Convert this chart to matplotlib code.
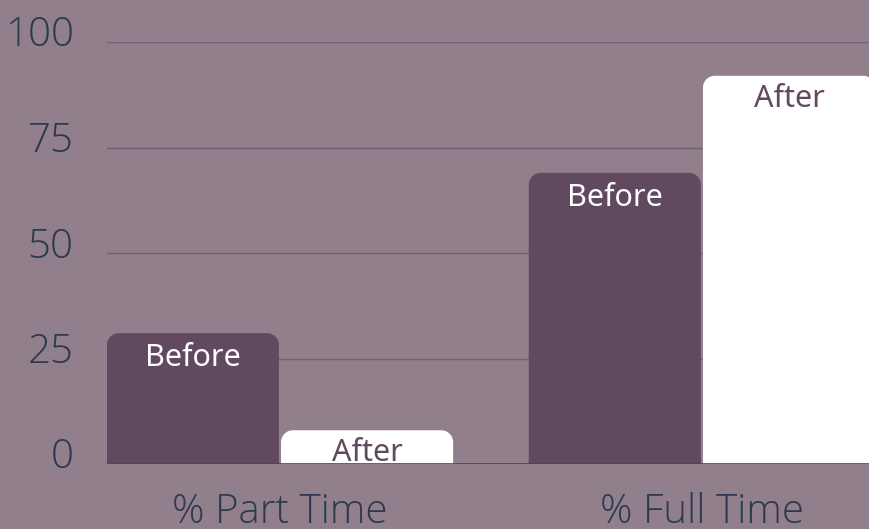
import numpy as np
import matplotlib.pyplot as plt
import matplotlib.transforms as mtransforms
from matplotlib.path import Path
from matplotlib.patches import PathPatch

categories = ['% Part Time', '% Full Time']
before = [31, 69]
after = [8, 92]
yticks = [0, 25, 50, 75, 100]

bg = '#917f8c'
dark = '#614a5f'
navy = '#2c3a50'


def rounded_top(ax, rect, r_px, color):
	# swap a plain bar for one with rounded top corners
	x, y = rect.get_x(), rect.get_y()
	w, h = rect.get_width(), rect.get_height()
	ax.figure.canvas.draw()
	p0 = ax.transData.transform((0, 0))
	p1 = ax.transData.transform((1, 1))
	rx = r_px / (p1[0] - p0[0])
	ry = min(r_px / (p1[1] - p0[1]), h)
	k = 0.5523
	verts = [
		(x, y), (x, y + h - ry),
		(x, y + h - ry + k * ry), (x + rx - k * rx, y + h), (x + rx, y + h),
		(x + w - rx, y + h),
		(x + w - rx + k * rx, y + h), (x + w, y + h - ry + k * ry), (x + w, y + h - ry),
		(x + w, y), (x, y),
	]
	codes = [Path.MOVETO, Path.LINETO,
		Path.CURVE4, Path.CURVE4, Path.CURVE4,
		Path.LINETO,
		Path.CURVE4, Path.CURVE4, Path.CURVE4,
		Path.LINETO, Path.CLOSEPOLY]
	rect.remove()
	ax.add_patch(PathPatch(Path(verts, codes), facecolor=color, edgecolor='none', zorder=3))


def main():
	fig = plt.figure(figsize=(8.69, 5.29), dpi=100, facecolor=bg)
	ax = fig.add_axes([107 / 869, 1 - 464 / 529, 1 - 107 / 869, (464 - 42) / 529])
	ax.set_facecolor(bg)

	x = np.arange(len(categories))
	w = 0.408
	gap = 0.0024
	b1 = ax.bar(x - w / 2 - gap, before, w, color=dark, zorder=3)
	b2 = ax.bar(x + w / 2 + gap, after, w, color='white', zorder=3)

	ax.set_xlim(-0.41, 1.396)
	ax.set_ylim(0, 100)

	ax.set_yticks(yticks)
	ax.set_xticks(x)
	ax.set_xticklabels(categories)
	ax.tick_params(length=0)
	ax.tick_params(axis='y', pad=24)
	ax.tick_params(axis='x', pad=20)
	for lab in ax.get_yticklabels() + ax.get_xticklabels():
		lab.set_fontfamily('Open Sans')
		lab.set_fontweight(300)
		lab.set_fontsize(29)
		lab.set_color(navy)
	off = mtransforms.ScaledTranslation(0, 11 / 100, fig.dpi_scale_trans)
	for lab in ax.get_yticklabels():
		lab.set_transform(lab.get_transform() + off)

	for s in ax.spines.values():
		s.set_visible(False)
	ax.grid(axis='y', color='#6f5f70', linewidth=1, zorder=0)
	ax.axhline(0, color='#3d4a60', linewidth=1.2, zorder=4)

	for rect, v in zip(b1, before):
		ax.annotate('Before', (rect.get_x() + rect.get_width() / 2, v), xytext=(0, -25),
			textcoords='offset pixels', ha='center', va='center', fontsize=22,
			family='Noto Sans', color='white', zorder=5)
	for rect, v in zip(b2, after):
		ax.annotate('After', (rect.get_x() + rect.get_width() / 2, v), xytext=(0, -23),
			textcoords='offset pixels', ha='center', va='center', fontsize=22,
			family='Noto Sans', color=dark, zorder=5)

	for rect in list(b1):
		rounded_top(ax, rect, 12, dark)
	for rect in list(b2):
		rounded_top(ax, rect, 12, 'white')

	fig.savefig('out.png', dpi=100, facecolor=bg)


if __name__ == "__main__":
	main()
